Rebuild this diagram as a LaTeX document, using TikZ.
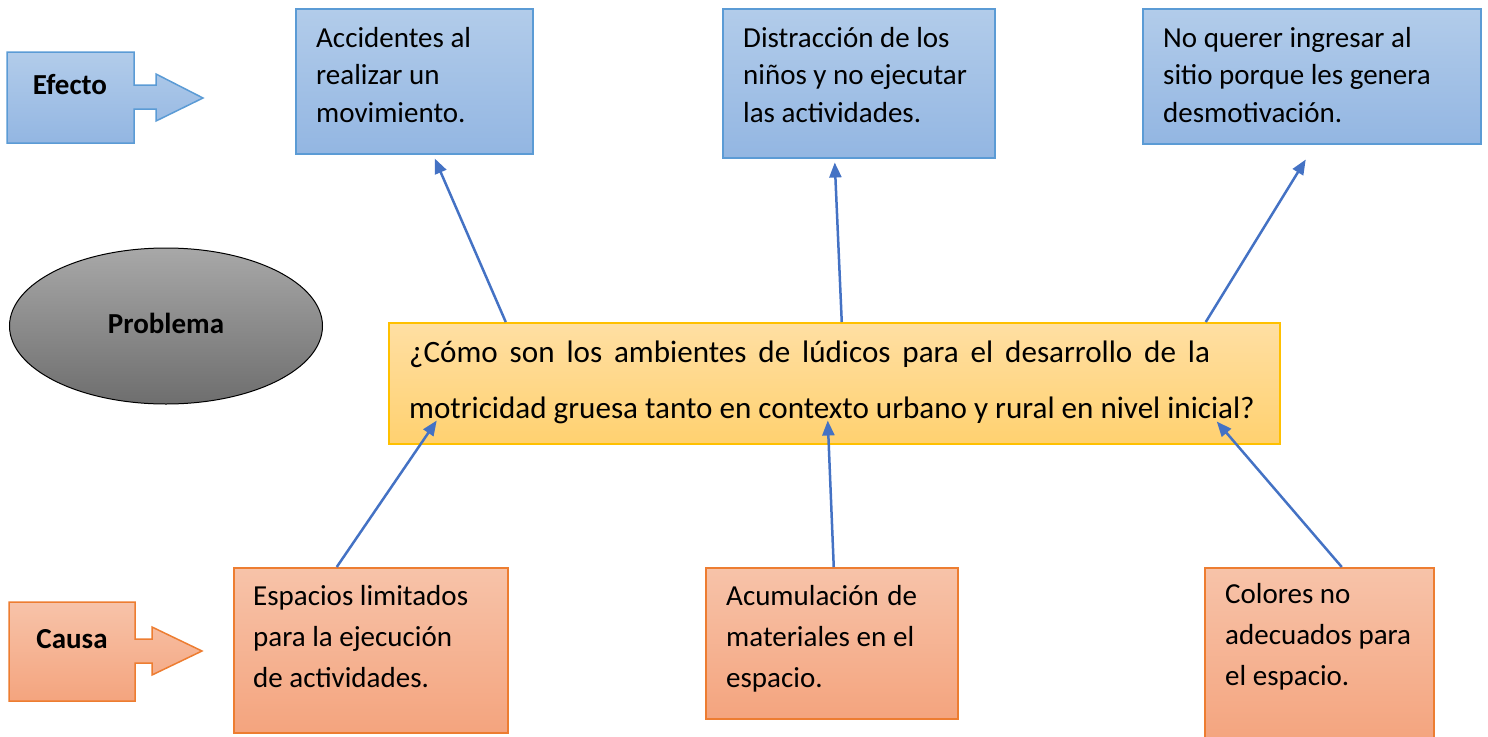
\documentclass[tikz,border=0pt]{standalone}
\usepackage{fontspec}
\setmainfont{Carlito}
\usetikzlibrary{arrows.meta,shapes.geometric}
\definecolor{bluetop}{HTML}{B2CCEA}
\definecolor{bluebot}{HTML}{93B6E2}
\definecolor{blueline}{HTML}{5B9BD5}
\definecolor{orgtop}{HTML}{F7C3A9}
\definecolor{orgbot}{HTML}{F4A47E}
\definecolor{orgline}{HTML}{ED7D31}
\definecolor{yeltop}{HTML}{FFDFA3}
\definecolor{yelbot}{HTML}{FFD170}
\definecolor{yelline}{HTML}{FFC000}
\definecolor{greytop}{HTML}{A8A8A8}
\definecolor{greybot}{HTML}{6E6E6E}
\definecolor{arrowblue}{HTML}{4472C4}
\tikzset{
  bluebox/.style={draw=blueline, line width=1.5pt, top color=bluetop, bottom color=bluebot, anchor=north west, inner sep=0pt},
  orgbox/.style={draw=orgline, line width=1.5pt, top color=orgtop, bottom color=orgbot, anchor=north west, inner sep=0pt},
  yelbox/.style={draw=yelline, line width=1.5pt, top color=yeltop, bottom color=yelbot, anchor=north west, inner sep=0pt},
  boxtext/.style={font=\fontsize{29}{37.5}\selectfont, align=left, anchor=base west, inner sep=0pt},
  boxtextlow/.style={font=\fontsize{29}{41}\selectfont, align=left, anchor=base west, inner sep=0pt},
  labeltext/.style={font=\fontsize{29}{34}\selectfont\bfseries, anchor=base, inner sep=0pt},
  conn/.style={draw=arrowblue, line width=2.5pt, -{Triangle[length=15pt,width=12pt]}}
}
\begin{document}
\begin{tikzpicture}[x=1pt,y=-1pt]
\useasboundingbox (0,0) rectangle (1488,736);

% Efecto arrow shape
\path[draw=blueline, line width=1.5pt, top color=bluetop, bottom color=bluebot]
  (7,52) -- (134,52) -- (134,85) -- (156,85) -- (156,74) -- (203,98) -- (156,121) -- (156,109) -- (134,109) -- (134,143) -- (7,143) -- cycle;
\node[labeltext] (efecto) at (70,94) {Efecto};

% Causa arrow shape
\path[draw=orgline, line width=1.5pt, top color=orgtop, bottom color=orgbot]
  (9,602) -- (135,602) -- (135,639) -- (152,639) -- (152,627) -- (202,651) -- (152,675) -- (152,663) -- (135,663) -- (135,701) -- (9,701) -- cycle;
\node[labeltext] (causa) at (72,648) {Causa};

% Problema ellipse
\node[ellipse, draw=black, line width=1pt, top color=greytop, bottom color=greybot, minimum width=313pt, minimum height=156pt, inner sep=0pt] (prob) at (166,326) {};
\node[labeltext] (problabel) at (166,333) {Problema};

% Effect boxes
\node[bluebox, minimum width=237pt, minimum height=145pt] (e1) at (295,8) {};
\node[boxtext] (e1t) at (316,122) {Accidentes al\\realizar un\\movimiento.};
\node[bluebox, minimum width=272pt, minimum height=149pt] (e2) at (722,8) {};
\node[boxtext] (e2t) at (743,122) {Distracción de los\\niños y no ejecutar\\las actividades.};
\node[bluebox, minimum width=338pt, minimum height=135pt] (e3) at (1142,8) {};
\node[boxtext] (e3t) at (1163,122) {No querer ingresar al\\sitio porque les genera\\desmotivación.};

% Problem box
\node[yelbox, minimum width=891pt, minimum height=121pt] (q) at (388,322) {};
\node[font=\fontsize{31.1}{56}\selectfont, align=left, anchor=base west, inner sep=0pt] (qt) at (409,418)
  {\makebox[801pt][s]{¿Cómo son los ambientes de lúdicos para el desarrollo de la}\\motricidad gruesa tanto en contexto urbano y rural en nivel inicial?};

% Cause boxes
\node[orgbox, minimum width=274pt, minimum height=165pt] (c1) at (233,567) {};
\node[boxtextlow] (c1t) at (253,687) {Espacios limitados\\para la ejecución\\de actividades.};
\node[orgbox, minimum width=252pt, minimum height=151pt] (c2) at (705,567) {};
\node[boxtextlow] (c2t) at (726,687) {\makebox[191pt][s]{Acumulación de}\\\makebox[188pt][s]{materiales en el}\\espacio.};
\node[orgbox, minimum width=229pt, minimum height=175pt] (c3) at (1204,567) {};
\node[boxtextlow] (c3t) at (1225,685) {Colores no\\adecuados para\\el espacio.};

% Connectors
\draw[conn] ([xshift=-328.5pt]q.north) -- ([xshift=20.5pt,yshift=-4pt]e1.south);
\draw[conn] ([xshift=7.5pt]q.north) -- ([xshift=-24pt,yshift=-4pt]e2.south);
\draw[conn] ([xshift=371.5pt]q.north) -- ([xshift=-6pt,yshift=-15pt]e3.south);
\draw[conn] ([xshift=-34pt]c1.north) -- ([xshift=-397.5pt,yshift=24pt]q.south);
\draw[conn] ([xshift=2pt]c2.north) -- ([xshift=-6.5pt,yshift=24pt]q.south);
\draw[conn] ([xshift=22.5pt]c3.north) -- ([xshift=382.5pt,yshift=23pt]q.south);
\end{tikzpicture}
\end{document}
